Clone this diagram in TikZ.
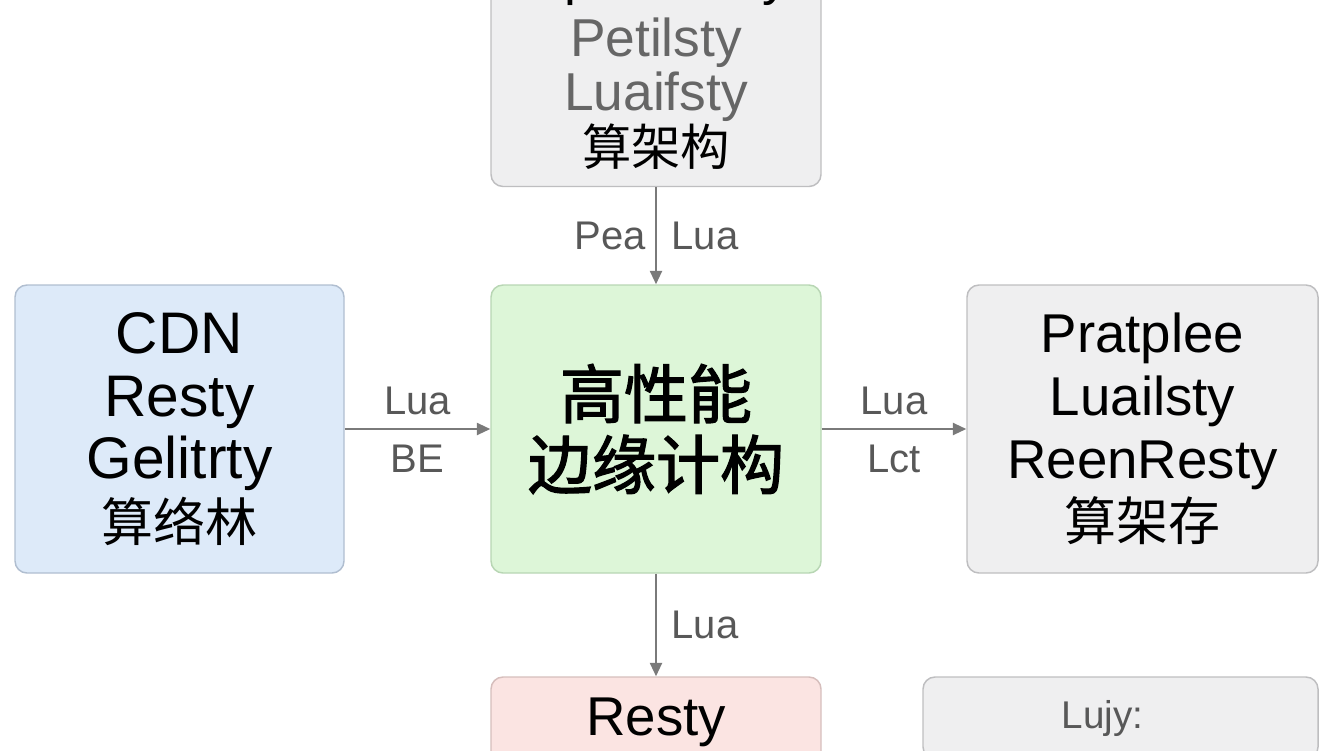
\documentclass[tikz,border=0pt]{standalone}
\usepackage{fontspec}
\setmainfont{Liberation Sans}
\newfontfamily\cjk{Noto Sans CJK SC}
\newfontfamily\cjkbold[FakeBold=2]{Noto Sans CJK SC}
\usetikzlibrary{arrows.meta}

\definecolor{boxline}{RGB}{190,190,192}
\definecolor{blueline}{RGB}{176,190,208}
\definecolor{greenline}{RGB}{184,214,180}
\definecolor{pinkline}{RGB}{214,190,188}
\definecolor{bluefill}{RGB}{221,234,249}
\definecolor{greenfill}{RGB}{221,246,216}
\definecolor{grayfill}{RGB}{239,239,240}
\definecolor{pinkfill}{RGB}{251,228,226}
\definecolor{arrowgray}{RGB}{122,122,122}
\definecolor{labelgray}{RGB}{88,88,88}
\definecolor{softtext}{RGB}{102,102,102}

\begin{document}
\begin{tikzpicture}[x=0.75pt,y=0.75pt,yscale=-1,xscale=1,
  blockbox/.style={draw=boxline, line width=1.1pt, rounded corners=9pt, align=center, inner sep=0pt},
  flow/.style={draw=arrowgray, line width=1.5pt, -{Triangle[length=10pt,width=9pt]}},
  arrlabel/.style={text=labelgray, inner sep=0pt, font=\fontsize{30}{33}\selectfont}]
\useasboundingbox (0,0) rectangle (1344,750);
\clip (0,0) rectangle (1344,750);

% Top box (cut by the frame)
\node [blockbox, fill=grayfill, minimum width=247.5pt, minimum height=184.5pt,
  font=\fontsize{40}{41}\selectfont] (cfg) at (656,63.5)
  {OpenResty\\[5pt] \textcolor{softtext}{Petilsty}\\ \textcolor{softtext}{Luaifsty}\\ {\cjk\fontsize{37}{41}\selectfont 算架构}};
% Left box
\node [blockbox, draw=blueline, fill=bluefill, minimum width=246.75pt, minimum height=216pt,
  font=\fontsize{44}{47}\selectfont] (cdn) at (179.5,429)
  {CDN\\ Resty\\ Gelitrty\\ {\cjk\fontsize{39}{47}\selectfont 算络林}};
% Center box
\node [blockbox, draw=greenline, fill=greenfill, minimum width=247.5pt, minimum height=216pt,
  font=\cjkbold\fontsize{48}{53}\selectfont] (edge) at (656,429)
  {高性能\\ 边缘计构};
% Right box
\node [blockbox, fill=grayfill, minimum width=263.25pt, minimum height=216pt,
  font=\fontsize{41}{47}\selectfont] (store) at (1142.5,429)
  {Pratplee\\ Luailsty\\ ReenResty\\ {\cjk\fontsize{39}{47}\selectfont 算架存}};
% Bottom box (cut by the frame)
\node [blockbox, draw=pinkline, fill=pinkfill, minimum width=247.5pt, minimum height=67.5pt,
  font=\fontsize{41}{46}\selectfont] (resty) at (656,722)
  {Resty};
% Bottom right box (cut by the frame)
\node [blockbox, fill=grayfill, minimum width=296.25pt, minimum height=61.5pt,
  text=labelgray, font=\fontsize{29}{32}\selectfont] (lujy) at (1120.5,718)
  {\mbox{Lujy:\hspace{27pt}}};

% Connections
\draw [flow] (cfg) -- (edge)
  node [arrlabel, midway, left=7pt] {Pea}
  node [arrlabel, midway, right=11pt] {Lua};
\draw [flow] (cdn.east) -- (edge.west)
  node [arrlabel, midway, above=10pt] {Lua}
  node [arrlabel, midway, below=11.5pt] {BE};
\draw [flow] (edge.east) -- (store.west)
  node [arrlabel, midway, above=10pt] {Lua}
  node [arrlabel, midway, below=11.5pt] {Lct};
\draw [flow] (edge) -- (resty)
  node [arrlabel, midway, right=11pt] {Lua};

\end{tikzpicture}
\end{document}
